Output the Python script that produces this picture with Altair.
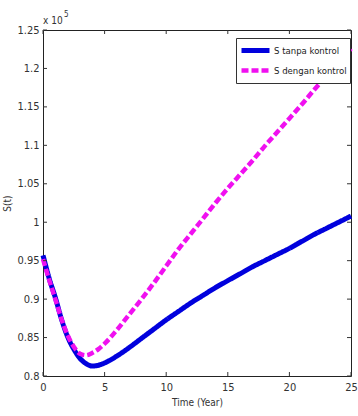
import altair as alt
import pandas as pd

# Time (years)
t = [0, 0.5, 1, 1.5, 2, 2.5, 3, 3.5, 4, 4.5, 5, 6, 7, 8, 9, 10, 11, 12, 13,
     14, 15, 16, 17, 18, 19, 20, 21, 22, 23, 24, 25]
# S(t) in units of 10^5
s_tanpa = [0.957, 0.927, 0.902, 0.874, 0.851, 0.835, 0.823, 0.816, 0.813, 0.814,
           0.817, 0.826, 0.837, 0.849, 0.861, 0.873, 0.884, 0.895, 0.905, 0.915,
           0.924, 0.933, 0.942, 0.950, 0.958, 0.966, 0.975, 0.984, 0.992, 1.000, 1.008]
s_dengan = [0.952, 0.925, 0.900, 0.874, 0.853, 0.838, 0.829, 0.827, 0.830, 0.835,
            0.842, 0.860, 0.880, 0.900, 0.921, 0.943, 0.965, 0.985, 1.005, 1.025,
            1.044, 1.062, 1.080, 1.099, 1.117, 1.135, 1.153, 1.172, 1.190, 1.208, 1.226]
series_names = ["S tanpa kontrol", "S dengan kontrol"]
x_ticks = [0, 5, 10, 15, 20, 25]
y_ticks = [0.8, 0.85, 0.9, 0.95, 1.0, 1.05, 1.1, 1.15, 1.2, 1.25]

FONT = "Liberation Sans Narrow, DejaVu Sans Condensed, Roboto Condensed, Liberation Sans"
W, H = 308, 346

df = pd.DataFrame({
    "t": t * 2,
    "S": s_tanpa + s_dengan,
    "series": [series_names[0]] * len(t) + [series_names[1]] * len(t),
})
xt = pd.DataFrame({"v": x_ticks})
yt = pd.DataFrame({"v": y_ticks})

xs = alt.Scale(domain=[0, 25], nice=False, zero=False)
ys = alt.Scale(domain=[0.8, 1.25], nice=False, zero=False)

color = alt.Color("series:N",
                  scale=alt.Scale(domain=series_names, range=["#0000dd", "#f010f0"]),
                  legend=alt.Legend(title=None, orient="none", legendX=193, legendY=8,
                                    fillColor="white", strokeColor="#333", padding=3,
                                    symbolType="M-1,0H3", symbolSize=196,
                                    symbolStrokeWidth=4, symbolFillColor="transparent",
                                    labelFont=FONT, labelFontSize=9.5,
                                    labelColor="#222", rowPadding=-8, labelOffset=16,
                                    cornerRadius=0, labelLimit=200))
dash = alt.StrokeDash("series:N",
                      scale=alt.Scale(domain=series_names, range=[[1, 0], [7, 3]]),
                      legend=None)
sw = alt.StrokeWidth("series:N",
                     scale=alt.Scale(domain=series_names, range=[5, 4.5]),
                     legend=None)

x_axis = alt.Axis(title="Time (Year)", values=x_ticks, ticks=False, grid=False,
                  domain=False, labelPadding=5, titlePadding=5,
                  labelOverlap=False, labelFlush=False,
                  labelFont=FONT, titleFont=FONT, labelFontSize=11,
                  titleFontSize=10, titleFontWeight="normal",
                  labelColor="#333", titleColor="#333")
y_axis = alt.Axis(title="S(t)", values=y_ticks, ticks=False, grid=False,
                  domain=False, labelPadding=4, titlePadding=4,
                  labelOverlap=False, labelFlush=False,
                  labelFont=FONT, titleFont=FONT, labelFontSize=11,
                  titleFontSize=10, titleFontWeight="normal",
                  labelColor="#333", titleColor="#333",
                  labelExpr="format(datum.value, '.3~f')")

X = lambda f: alt.X(f, scale=xs, axis=x_axis, title="Time (Year)")
Y = lambda f: alt.Y(f, scale=ys, axis=y_axis, title="S(t)")

base = alt.Chart(df)
blue = base.transform_filter(alt.datum.series == series_names[0]).mark_line(
    interpolate="monotone").encode(x=X("t:Q"), y=Y("S:Q"),
                                   color=color, strokeDash=dash, strokeWidth=sw)
mag = base.transform_filter(alt.datum.series == series_names[1]).mark_line(
    interpolate="monotone").encode(x=X("t:Q"), y=Y("S:Q"),
                                   color=color, strokeDash=dash, strokeWidth=sw)

tick_col = "#333"
bottom_t = alt.Chart(xt).mark_rule(color=tick_col, strokeWidth=1).encode(
    x=X("v:Q"), y=alt.value(H), y2=alt.value(H - 4))
top_t = alt.Chart(xt).mark_rule(color=tick_col, strokeWidth=1).encode(
    x=X("v:Q"), y=alt.value(0), y2=alt.value(4))
left_t = alt.Chart(yt).mark_rule(color=tick_col, strokeWidth=1).encode(
    y=Y("v:Q"), x=alt.value(0), x2=alt.value(4))
right_t = alt.Chart(yt).mark_rule(color=tick_col, strokeWidth=1).encode(
    y=Y("v:Q"), x=alt.value(W), x2=alt.value(W - 4))

exp_txt = alt.Chart(pd.DataFrame({"a": ["x 10"]})).mark_text(
    font=FONT, fontSize=10, color="#333", align="left", baseline="alphabetic").encode(
    text="a:N", x=alt.value(0), y=alt.value(-6))
exp_sup = alt.Chart(pd.DataFrame({"a": ["5"]})).mark_text(
    font=FONT, fontSize=8, color="#333", align="left", baseline="alphabetic").encode(
    text="a:N", x=alt.value(21), y=alt.value(-13))

chart = alt.layer(blue, mag, bottom_t, top_t, left_t, right_t, exp_txt, exp_sup).properties(
    width=W, height=H,
    autosize=alt.AutoSizeParams(type="none"),
    padding={"left": 43, "top": 30, "right": 7, "bottom": 40},
    background="white",
).configure_view(stroke="#222", strokeWidth=1).resolve_scale(
    color="shared", strokeDash="shared")

chart.save("out.html", embed_options={"renderer": "svg", "actions": False})
